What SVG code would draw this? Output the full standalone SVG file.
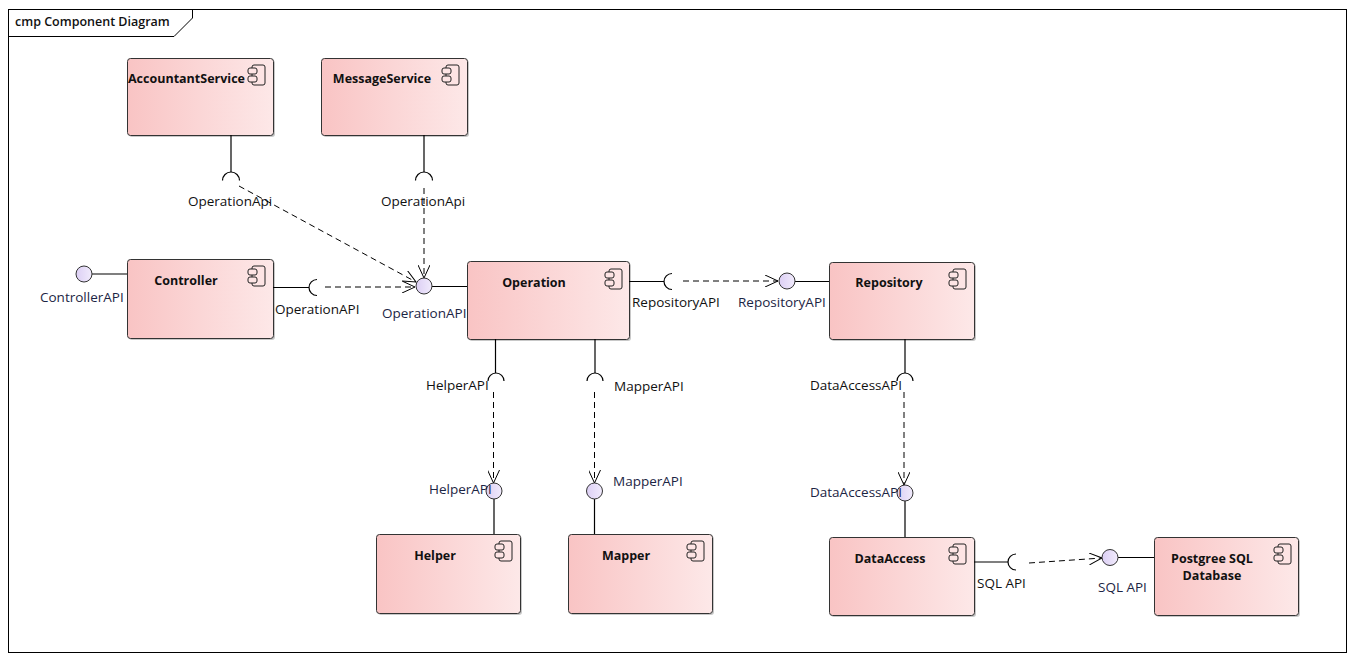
<svg xmlns="http://www.w3.org/2000/svg" width="1353" height="660" viewBox="0 0 1353 660">
  <style>
    .frame { fill: none; stroke: #000; stroke-width: 1; }
    .comp { fill: url(#compFill); stroke: #333; stroke-width: 1; }
    .shadow { fill: #c8c8c8; }
    .title { font-family: "Open Sans", "Noto Sans", sans-serif; font-size: 12.5px; font-weight: bold; fill: #111; }
    .lbl { font-family: "Open Sans", "Noto Sans", sans-serif; font-size: 13.5px; fill: #111; }
    .plbl { font-family: "Open Sans", "Noto Sans", sans-serif; font-size: 13.5px; fill: #1c2544; }
    .wire { fill: none; stroke: #000; stroke-width: 1.2; }
    .dep { fill: none; stroke: #000; stroke-width: 1; stroke-dasharray: 6 4; marker-end: url(#openArrow); }
    .ball { fill: url(#ballFill); stroke: #333; stroke-width: 1; }
    .sock { fill: none; stroke: #000; stroke-width: 1.2; }
    .icon { fill: #fde4e4; stroke: #222; stroke-width: 1; }
  </style>
  <defs>
    <linearGradient id="compFill" x1="0" y1="0" x2="1" y2="0">
      <stop offset="0" stop-color="#f9c4c4"/>
      <stop offset="1" stop-color="#fde8e8"/>
    </linearGradient>
    <linearGradient id="ballFill" x1="0" y1="0" x2="1" y2="0">
      <stop offset="0" stop-color="#dccff4"/>
      <stop offset="1" stop-color="#f1ebfc"/>
    </linearGradient>
    <marker id="openArrow" viewBox="0 0 14 12" refX="13" refY="6" markerWidth="14" markerHeight="12" markerUnits="userSpaceOnUse" orient="auto">
      <path d="M0,0 L13,6 L0,12" fill="none" stroke="#000" stroke-width="1"/>
    </marker>
    <!-- UML component glyph, 18x20 -->
    <g id="compIcon">
      <rect class="icon" x="4" y="0" width="13" height="20" rx="2"/>
      <rect class="icon" x="0" y="3" width="9" height="6" rx="2"/>
      <rect class="icon" x="0" y="11" width="9" height="6" rx="2"/>
    </g>
  </defs>

  <rect width="1353" height="660" fill="#fff"/>

  <!-- diagram frame -->
  <g id="frame">
    <rect class="frame" x="8.5" y="9.5" width="1338" height="643"/>
    <path class="frame" d="M8.5,36.5 H174 L192.5,18 V9.5"/>
    <text x="15" y="26" font-family="'Open Sans', 'Noto Sans', sans-serif" font-size="12.5" font-weight="600" fill="#111">cmp Component Diagram</text>
  </g>

  <!-- components -->
  <g id="AccountantService">
    <rect class="shadow" x="129" y="60" width="146" height="77" rx="3"/>
    <rect class="comp" x="127.5" y="58.5" width="146" height="77" rx="3"/>
    <use href="#compIcon" x="248" y="65"/>
    <text class="title" x="128" y="83">AccountantService</text>
  </g>
  <g id="MessageService">
    <rect class="shadow" x="323" y="60" width="146" height="77" rx="3"/>
    <rect class="comp" x="321.5" y="58.5" width="146" height="77" rx="3"/>
    <use href="#compIcon" x="442" y="65"/>
    <text class="title" x="382" y="83" text-anchor="middle">MessageService</text>
  </g>
  <g id="Controller">
    <rect class="shadow" x="129" y="261" width="146" height="79" rx="3"/>
    <rect class="comp" x="127.5" y="259.5" width="146" height="79" rx="3"/>
    <use href="#compIcon" x="248" y="266"/>
    <text class="title" x="186" y="285" text-anchor="middle">Controller</text>
  </g>
  <g id="Operation">
    <rect class="shadow" x="469" y="263" width="162" height="78" rx="3"/>
    <rect class="comp" x="467.5" y="261.5" width="162" height="78" rx="3"/>
    <use href="#compIcon" x="605" y="269"/>
    <text class="title" x="534" y="287" text-anchor="middle">Operation</text>
  </g>
  <g id="Repository">
    <rect class="shadow" x="831" y="264" width="145" height="77" rx="3"/>
    <rect class="comp" x="829.5" y="262.5" width="145" height="77" rx="3"/>
    <use href="#compIcon" x="949" y="269"/>
    <text class="title" x="889" y="287" text-anchor="middle">Repository</text>
  </g>
  <g id="Helper">
    <rect class="shadow" x="378" y="536" width="144" height="79" rx="3"/>
    <rect class="comp" x="376.5" y="534.5" width="144" height="79" rx="3"/>
    <use href="#compIcon" x="495" y="541"/>
    <text class="title" x="435" y="560" text-anchor="middle">Helper</text>
  </g>
  <g id="Mapper">
    <rect class="shadow" x="570" y="536" width="144" height="79" rx="3"/>
    <rect class="comp" x="568.5" y="534.5" width="144" height="79" rx="3"/>
    <use href="#compIcon" x="687" y="541"/>
    <text class="title" x="626" y="560" text-anchor="middle">Mapper</text>
  </g>
  <g id="DataAccess">
    <rect class="shadow" x="831" y="539" width="145" height="78" rx="3"/>
    <rect class="comp" x="829.5" y="537.5" width="145" height="78" rx="3"/>
    <use href="#compIcon" x="949" y="544"/>
    <text class="title" x="890" y="563" text-anchor="middle">DataAccess</text>
  </g>
  <g id="PostgreeSQLDatabase">
    <rect class="shadow" x="1156" y="539" width="144" height="78" rx="3"/>
    <rect class="comp" x="1154.5" y="537.5" width="144" height="78" rx="3"/>
    <use href="#compIcon" x="1274" y="544"/>
    <text class="title" x="1212" y="563" text-anchor="middle">Postgree SQL</text>
    <text class="title" x="1212" y="580" text-anchor="middle">Database</text>
  </g>

  <!-- interfaces, sockets and dependencies -->
  <g id="connectors">
    <!-- ControllerAPI provided -->
    <path class="wire" d="M92,274 H127"/>
    <circle class="ball" cx="84" cy="274" r="8"/>
    <text class="plbl" x="40" y="302">ControllerAPI</text>

    <!-- Controller requires OperationAPI -->
    <path class="wire" d="M273,287.5 H309"/>
    <path class="sock" d="M317,279.5 A8,8 0 0 0 317,295.5"/>
    <text class="lbl" x="275" y="314">OperationAPI</text>
    <path class="dep" d="M325,287 H415"/>

    <!-- OperationAPI provided by Operation -->
    <path class="wire" d="M432,286.5 H467"/>
    <text class="plbl" x="382" y="318">OperationAPI</text>

    <!-- AccountantService requires OperationApi -->
    <path class="wire" d="M231,135 V172"/>
    <path class="sock" d="M222.5,180.5 A8.5,8.5 0 0 1 239.5,180.5"/>
    <text class="lbl" x="188" y="206">OperationApi</text>
    <path class="dep" d="M239,186 L416,282"/>

    <!-- MessageService requires OperationApi -->
    <path class="wire" d="M424,135 V172"/>
    <path class="sock" d="M415.5,180.5 A8.5,8.5 0 0 1 432.5,180.5"/>
    <text class="lbl" x="381" y="206">OperationApi</text>
    <path class="dep" d="M424,188 V278"/>

    <circle class="ball" cx="424" cy="286" r="8"/>

    <!-- Operation requires RepositoryAPI -->
    <path class="wire" d="M629,281.5 H664"/>
    <path class="sock" d="M672,273.5 A8,8 0 0 0 672,289.5"/>
    <text class="lbl" x="632" y="307">RepositoryAPI</text>
    <path class="dep" d="M683,281 H778"/>
    <path class="wire" d="M795,281.5 H829"/>
    <circle class="ball" cx="787" cy="281" r="8"/>
    <text class="plbl" x="738" y="307">RepositoryAPI</text>

    <!-- Operation requires HelperAPI -->
    <path class="wire" d="M495.5,339 V373"/>
    <path class="sock" d="M488,381 A8,8 0 0 1 504,381"/>
    <text class="lbl" x="426" y="390">HelperAPI</text>
    <path class="dep" d="M493.5,392 V483"/>
    <path class="wire" d="M494,499 V534"/>
    <circle class="ball" cx="494" cy="491" r="8"/>
    <text class="plbl" x="429" y="494">HelperAPI</text>

    <!-- Operation requires MapperAPI -->
    <path class="wire" d="M595,339 V373"/>
    <path class="sock" d="M587,381 A8,8 0 0 1 603,381"/>
    <text class="lbl" x="614" y="391">MapperAPI</text>
    <path class="dep" d="M594.5,392 V483"/>
    <path class="wire" d="M594.5,499 V534"/>
    <circle class="ball" cx="594.5" cy="491" r="8"/>
    <text class="plbl" x="613" y="486">MapperAPI</text>

    <!-- Repository requires DataAccessAPI -->
    <path class="wire" d="M905,339 V373"/>
    <path class="sock" d="M897,381 A8,8 0 0 1 913,381"/>
    <text class="lbl" x="810" y="390">DataAccessAPI</text>
    <path class="dep" d="M904,392 V485"/>
    <path class="wire" d="M905,501 V537"/>
    <circle class="ball" cx="905" cy="493" r="8"/>
    <text class="plbl" x="810" y="497">DataAccessAPI</text>

    <!-- DataAccess requires SQL API -->
    <path class="wire" d="M974,562 H1008"/>
    <path class="sock" d="M1016,554 A8,8 0 0 0 1016,570"/>
    <text class="lbl" x="977" y="588">SQL API</text>
    <path class="dep" d="M1029,563 L1102,558"/>
    <path class="wire" d="M1118,557.5 H1154"/>
    <circle class="ball" cx="1110" cy="557.5" r="8"/>
    <text class="plbl" x="1098" y="592">SQL API</text>
  </g>
</svg>
